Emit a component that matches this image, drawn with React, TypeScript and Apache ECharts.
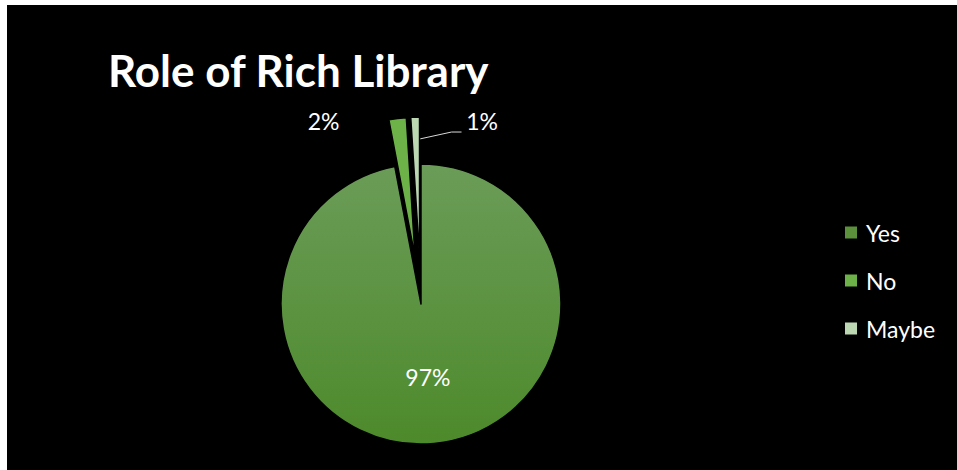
import React, { useEffect, useRef } from "react";
import * as echarts from "echarts";

const titleText = "Role of Rich Library";
const categories = ["Yes", "No", "Maybe"];
const values = [97, 2, 1];
const exploded = [false, true, true];
const sliceColors: any[] = [
  new echarts.graphic.LinearGradient(0, 0, 0, 1, [
    { offset: 0, color: "#6b9c58" },
    { offset: 1, color: "#4d8a2b" },
  ]),
  "#6db248",
  "#bcd8b3",
];
const legendColors = ["#5b913a", "#6db248", "#bcd8b3"];

const CENTER = [414, 299];
const RADIUS = 140;
const OFFSET = 47;
const FONT = "Lato";
const LABEL_SIZE = 23;

export default function App() {
  const ref = useRef<HTMLDivElement>(null);
  useEffect(() => {
    const chart = echarts.init(ref.current!, null, { renderer: "svg" });
    const total = values.reduce((a, b) => a + b, 0);
    let acc = 0;
    const mids = values.map((v) => {
      const m = ((acc + v / 2) / total) * 2 * Math.PI;
      acc += v;
      return m;
    });
    const pct = (i: number) => Math.round((values[i] / total) * 100) + "%";
    const outer = (i: number) => [
      CENTER[0] + (RADIUS + OFFSET) * Math.sin(mids[i]),
      CENTER[1] - (RADIUS + OFFSET) * Math.cos(mids[i]),
    ];
    const o1 = outer(1);
    const o2 = outer(2);
    // point on right edge (end angle = top) of the exploded "Maybe" slice
    const sx = CENTER[0] + OFFSET * Math.sin(mids[2]);
    const sy = CENTER[1] - OFFSET * Math.cos(mids[2]) - (RADIUS - 22);

    const data = categories.map((name, i) => ({
      name,
      value: values[i],
      selected: exploded[i],
      itemStyle: { color: sliceColors[i] },
      label: { show: i === 0, position: "inside" },
      labelLine: { show: false },
    }));

    const textStyle = (text: string) => ({
      text,
      fill: "#ffffff",
      font: `${LABEL_SIZE}px ${FONT}`,
      align: "center",
      verticalAlign: "middle",
      textAlign: "center",
      textVerticalAlign: "middle",
    });

    chart.setOption({
      animation: false,
      backgroundColor: "#000000",
      title: {
        text: titleText,
        left: 96,
        top: 38,
        textStyle: {
          color: "#ffffff",
          fontFamily: FONT,
          fontWeight: "bold",
          fontSize: 44,
        },
      },
      legend: {
        orient: "vertical",
        left: 831,
        top: 211,
        itemWidth: 14,
        itemHeight: 14,
        itemGap: 25,
        icon: "rect",
        data: categories.map((name, i) => ({
          name,
          itemStyle: { color: legendColors[i] },
        })),
        textStyle: {
          color: "#ffffff",
          fontFamily: FONT,
          fontSize: 23,
          padding: [0, 0, 0, 3],
        },
      },
      graphic: [
        {
          type: "text",
          x: o1[0] - 74,
          y: o1[1] + 3,
          style: textStyle(pct(1)),
        },
        {
          type: "text",
          x: o2[0] + 67,
          y: o2[1] + 4,
          style: textStyle(pct(2)),
        },
        {
          type: "polyline",
          shape: {
            points: [
              [sx, sy],
              [sx + 32, sy - 7],
              [sx + 42, sy - 7],
            ],
          },
          style: { stroke: "#d9d9d9", lineWidth: 1, fill: null },
        },
      ],
      series: [
        {
          type: "pie",
          center: CENTER,
          radius: [0, RADIUS],
          startAngle: 90,
          clockwise: true,
          avoidLabelOverlap: false,
          selectedMode: "multiple",
          selectedOffset: OFFSET,
          emphasis: { disabled: true },
          itemStyle: { borderColor: "#000000", borderWidth: 1.5 },
          label: {
            formatter: "{d}%",
            color: "#ffffff",
            fontFamily: FONT,
            fontSize: LABEL_SIZE,
          },
          data,
        },
      ],
    });
    return () => chart.dispose();
  }, []);
  return (
    <div
      ref={ref}
      style={{
        position: "fixed",
        left: 7,
        top: 5,
        width: 950,
        height: 465,
        background: "#000",
      }}
    />
  );
}
